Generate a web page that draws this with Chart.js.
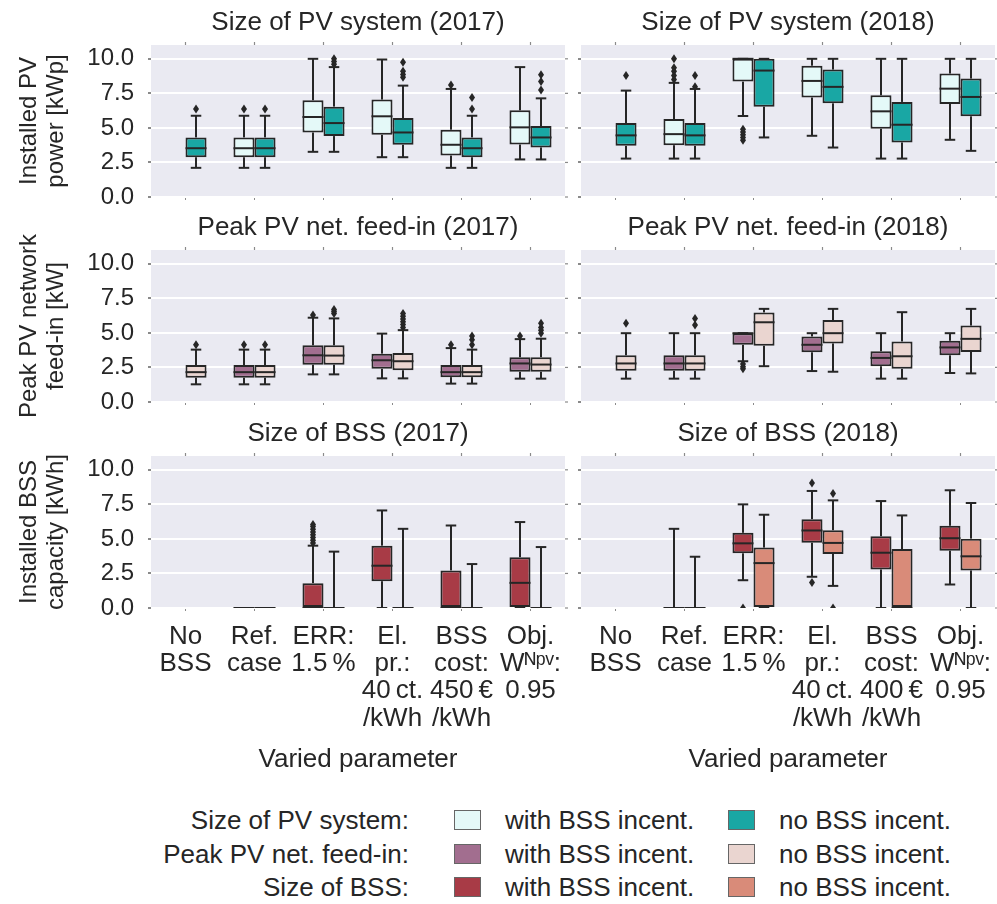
<!DOCTYPE html>
<html><head><meta charset="utf-8">
<script src="https://cdn.jsdelivr.net/npm/chart.js@4.4.1/dist/chart.umd.min.js"></script>
<style>
html,body{margin:0;padding:0;background:#fff;}
body{width:997px;height:904px;position:relative;overflow:hidden;font-family:"Liberation Sans",Arial,sans-serif;color:#262626;}
canvas{position:absolute;}
.lg{position:absolute;font-size:26px;line-height:34px;height:34px;white-space:nowrap;}
.sw{position:absolute;width:27px;height:20px;border:1px solid #666;box-sizing:border-box;}
</style></head><body>
<canvas id="c0"></canvas><canvas id="c1"></canvas>
<canvas id="c2"></canvas><canvas id="c3"></canvas>
<canvas id="c4"></canvas><canvas id="c5"></canvas>
<div id="legend"></div>
<script>
// ---------- data ----------
const yTicks = [0, 2.5, 5, 7.5, 10];
const yMax = 11;
const cats2017 = [["No","BSS"],["Ref.","case"],["ERR:","1.5\u2009%"],["El.","pr.:","40\u2009ct.","/kWh"],["BSS","cost:","450\u2009€","/kWh"],["Obj.","Wᴺᵖᵛ:","0.95"]];
const cats2018 = [["No","BSS"],["Ref.","case"],["ERR:","1.5\u2009%"],["El.","pr.:","40\u2009ct.","/kWh"],["BSS","cost:","400\u2009€","/kWh"],["Obj.","Wᴺᵖᵛ:","0.95"]];
const seriesNames = ["with BSS incent.", "no BSS incent."];

// box stats: [lower whisker, q1, median, q3, upper whisker]
const pv2017With = [null,[2.11,2.88,3.53,4.31,5.88],[3.27,4.67,5.79,7.0,10.0],[2.88,4.5,5.84,7.05,9.95],[2.11,3.0,3.78,4.87,7.82],[2.72,3.8,5.04,6.27,9.4]];
const pv2017WithOut = [[],[6.37],[],[],[8.1],[]];
const pv2017No = [[2.11,2.88,3.53,4.31,5.88],[2.11,2.88,3.53,4.31,5.88],[3.27,4.41,5.35,6.54,9.4],[2.88,3.78,4.67,5.71,8.06],[2.11,2.88,3.53,4.31,5.88],[2.72,3.59,4.31,5.13,7.14]];
const pv2017NoOut = [[6.37],[6.37],[9.6,9.8,10.0],[8.67,8.86,9.1,9.76],[6.37,7.2],[7.75,8.35,8.84]];

const pv2018With = [null,[2.78,3.75,4.55,5.64,8.26],[5.86,8.35,10.0,10.0,10.0],[4.43,7.2,8.4,9.5,10.0],[2.78,4.94,6.2,7.36,10.0],[4.14,6.73,7.84,8.93,10.0]];
const pv2018WithOut = [[],[8.5,8.79,9.1,9.35,10.0],[4.1,4.3,4.5,4.7,4.9],[],[],[]];
const pv2018No = [[2.78,3.7,4.46,5.35,7.7],[2.78,3.7,4.46,5.35,7.82],[4.31,6.54,9.15,10.0,10.0],[3.58,6.78,7.97,9.22,10.0],[2.78,3.95,5.23,6.88,10.0],[3.34,5.84,7.24,8.57,10.0]];
const pv2018NoOut = [[8.79],[7.97,8.79],[],[],[],[]];

const fi2017With = [null,[1.28,1.76,2.16,2.67,3.79],[2.0,2.7,3.38,4.1,6.1],[1.71,2.4,3.02,3.5,4.95],[1.33,1.8,2.16,2.67,3.9],[1.69,2.19,2.79,3.24,4.55]];
const fi2017WithOut = [[],[4.14],[6.29],[],[4.15],[4.78]];
const fi2017No = [[1.28,1.76,2.16,2.67,3.79],[1.28,1.76,2.16,2.67,3.79],[2.0,2.7,3.36,4.1,6.05],[1.71,2.3,2.95,3.55,5.2],[1.33,1.8,2.16,2.67,3.79],[1.69,2.19,2.71,3.24,4.58]];
const fi2017NoOut = [[4.14],[4.14],[6.4,6.55,6.7],[5.4,5.6,5.8,6.0,6.2,6.4],[4.14,4.5,4.78],[4.98,5.2,5.4,5.69]];

const fi2018With = [null,[1.69,2.26,2.79,3.38,4.98],[2.95,4.14,4.98,4.98,4.98],[2.24,3.6,4.14,4.74,4.98],[1.69,2.59,3.19,3.67,4.98],[2.1,3.38,3.95,4.43,4.98]];
const fi2018WithOut = [[],[],[2.75,2.55,2.4],[],[],[]];
const fi2018No = [[1.69,2.26,2.79,3.38,4.98],[1.69,2.26,2.79,3.38,4.98],[2.59,4.07,5.77,6.48,6.74],[2.19,4.24,4.98,5.93,6.74],[1.69,2.4,3.31,4.38,6.5],[2.07,3.62,4.57,5.53,6.74]];
const fi2018NoOut = [[5.69],[5.57,6.05],[],[],[],[]];

const bss2017With = [null,[0,0,0,0,0],[0,0,0,1.8,4.51],[0,1.94,3.06,4.51,7.06],[0,0,0,2.72,5.97],[0,0,1.82,3.68,6.22]];
const bss2017WithOut = [[],[],[4.7,4.9,5.1,5.3,5.5,5.7,5.9,6.05],[],[],[]];
const bss2017No = [null,[0,0,0,0,0],[0,0,0,0,4.08],[0,0,0,0,5.73],[0,0,0,0,3.18],[0,0,0,0,4.41]];
const bss2017NoOut = [[],[],[],[],[],[]];

const bss2018With = [null,[0,0,0,0,5.73],[2.01,3.96,4.68,5.44,7.5],[2.26,4.73,5.61,6.43,8.47],[0,2.79,4.0,5.19,7.74],[1.7,4.15,5.05,5.95,8.52]];
const bss2018WithOut = [[],[],[0],[9.05,1.85],[],[]];
const bss2018No = [null,[0,0,0,0,3.71],[0,0,3.25,4.37,6.75],[1.6,3.91,4.71,5.63,7.79],[0,0,0,4.27,6.7],[0,2.72,3.74,5.02,7.6]];
const bss2018NoOut = [[],[],[],[8.28,0],[],[]];

// ---------- styles ----------
const FONT = "'Liberation Sans', Arial, sans-serif";
const TEXT = '#262626';
const EDGE = '#262626';
const BG = '#eaeaf2';
const colPV = ['#e4f9f8', '#19a7a4'];
const colFI = ['#a26e8f', '#ead5d0'];
const colBSS = ['#a83b46', '#d98b79'];

const panels = [
  {id:'c0', col:0, row:0, title:'Size of PV system (2017)', cats:cats2017, s:[pv2017With,pv2017No], o:[pv2017WithOut,pv2017NoOut], colors:colPV, yTitle:['Installed PV','power [kWp]']},
  {id:'c1', col:1, row:0, title:'Size of PV system (2018)', cats:cats2018, s:[pv2018With,pv2018No], o:[pv2018WithOut,pv2018NoOut], colors:colPV},
  {id:'c2', col:0, row:1, title:'Peak PV net. feed-in (2017)', cats:cats2017, s:[fi2017With,fi2017No], o:[fi2017WithOut,fi2017NoOut], colors:colFI, yTitle:['Peak PV network','feed-in [kW]']},
  {id:'c3', col:1, row:1, title:'Peak PV net. feed-in (2018)', cats:cats2018, s:[fi2018With,fi2018No], o:[fi2018WithOut,fi2018NoOut], colors:colFI},
  {id:'c4', col:0, row:2, title:'Size of BSS (2017)', cats:cats2017, s:[bss2017With,bss2017No], o:[bss2017WithOut,bss2017NoOut], colors:colBSS, yTitle:['Installed BSS','capacity [kWh]']},
  {id:'c5', col:1, row:2, title:'Size of BSS (2018)', cats:cats2018, s:[bss2018With,bss2018No], o:[bss2018WithOut,bss2018NoOut], colors:colBSS}
];

const bgPlugin = {
  id:'bg',
  beforeDraw(chart){
    const {ctx, chartArea:a} = chart;
    ctx.save(); ctx.fillStyle = BG; ctx.fillRect(a.left, a.top, a.right-a.left, a.bottom-a.top); ctx.restore();
  },
  afterDraw(chart){
    const {ctx, chartArea:a, scales:{x,y}} = chart;
    ctx.save(); ctx.strokeStyle = '#8a8a8a'; ctx.lineWidth = 1.2;
    x.ticks.forEach((t,i)=>{ const px = x.getPixelForTick(i); ctx.beginPath(); ctx.moveTo(px, a.top-3); ctx.lineTo(px, a.top); ctx.stroke(); });
    y.ticks.forEach(t=>{ const py = y.getPixelForValue(t.value); ctx.beginPath(); ctx.moveTo(a.right, py); ctx.lineTo(a.right+3, py); ctx.stroke(); });
    ctx.restore();
  }
};

const boxPlugin = {
  id:'boxes',
  afterDatasetsDraw(chart){
    const {ctx, chartArea:a, scales:{y}} = chart;
    ctx.save();
    ctx.beginPath(); ctx.rect(a.left, a.top, a.right-a.left, a.bottom-a.top); ctx.clip();
    ctx.strokeStyle = EDGE; ctx.fillStyle = EDGE; ctx.lineWidth = 2;
    chart.data.datasets.forEach((ds, di) => {
      const meta = chart.getDatasetMeta(di);
      ds.stats.forEach((s, i) => {
        if (!s) return;
        const {x: cx, width: w} = meta.data[i].getProps(['x','width'], true);
        const [lo, q1, med, q3, hi] = s;
        const line = (x1,y1,x2,y2)=>{ ctx.beginPath(); ctx.moveTo(x1,y1); ctx.lineTo(x2,y2); ctx.stroke(); };
        const yq1 = y.getPixelForValue(q1), yq3 = y.getPixelForValue(q3);
        const ylo = y.getPixelForValue(lo), yhi = y.getPixelForValue(hi);
        line(cx, yq3, cx, yhi); line(cx-w/4, yhi, cx+w/4, yhi);
        line(cx, yq1, cx, ylo); line(cx-w/4, ylo, cx+w/4, ylo);
        const ym = y.getPixelForValue(med);
        line(cx-w/2, ym, cx+w/2, ym);
        (ds.fliers[i] || []).forEach(v => {
          const py = y.getPixelForValue(v);
          ctx.beginPath(); ctx.moveTo(cx, py-4.5); ctx.lineTo(cx+3, py); ctx.lineTo(cx, py+4.5); ctx.lineTo(cx-3, py); ctx.closePath(); ctx.fill();
        });
      });
    });
    ctx.restore();
  }
};

function makeChart(p){
  const cv = document.getElementById(p.id);
  const left = p.col === 0 ? 0 : 575;
  const width = p.col === 0 ? 572 : 422;
  const top = [0, 205, 411][p.row];
  const xH = [8, 38, 170][p.row];
  const height = 45 + 152 + xH;
  cv.width = width; cv.height = height;
  cv.style.left = left + 'px'; cv.style.top = top + 'px';
  const boxData = st => st.map(v => v ? [v[1], v[3]] : null);
  new Chart(cv, {
    type:'bar',
    data:{
      labels:p.cats,
      datasets:[0,1].map(k => ({
        label: seriesNames[k], data: boxData(p.s[k]), stats: p.s[k], fliers: p.o[k],
        backgroundColor: p.colors[k], borderColor: EDGE, borderWidth: 2, borderSkipped: false
      }))
    },
    options:{
      responsive:false, animation:false, devicePixelRatio:1,
      layout:{padding:{left:0, right: p.col === 0 ? 7 : 2, top:0, bottom:0}},
      plugins:{
        legend:{display:false}, tooltip:{enabled:false},
        title:{display:true, text:p.title, fullSize:false, color:TEXT,
               font:{family:FONT, size:26, weight:'normal', lineHeight:1.2}, padding:{top:7, bottom:6.8}}
      },
      datasets:{bar:{categoryPercentage:0.61, barPercentage:1}},
      scales:{
        x:{
          type:'category', offset:true,
          grid:{display:true, drawOnChartArea:false, drawTicks:true, tickLength:3, tickColor:'#8a8a8a', offset:false},
          border:{display:false},
          ticks:{display: p.row === 2, color:TEXT, font:{family:FONT, size:26, lineHeight:1.05}, padding:12, maxRotation:0, minRotation:0, autoSkip:false},
          title:{display: p.row === 2, text:'Varied parameter', color:TEXT, font:{family:FONT, size:26, lineHeight:1.2}, padding:{top:4, bottom:3}},
          afterFit: s => { s.height = xH; s.paddingLeft = 0; s.paddingRight = 0; }
        },
        y:{
          min:0, max:yMax,
          afterBuildTicks: s => { s.ticks = yTicks.map(v => ({value:v})); },
          grid:{color:'#ffffff', lineWidth:2, tickColor:'#8a8a8a', tickLength:3, drawTicks:true},
          border:{display:false},
          ticks:{display: p.col === 0, color:TEXT, font:{family:FONT, size:24}, padding:14, callback: v => Number(v).toFixed(1)},
          title:{display: p.col === 0, text: p.yTitle || '', color:TEXT, font:{family:FONT, size:24, lineHeight:1.12}, padding:{top:16, bottom:0}},
          afterFit: s => { s.width = p.col === 0 ? 151 : 6; s.paddingTop = 0; s.paddingBottom = 0; }
        }
      }
    },
    plugins:[bgPlugin, boxPlugin]
  });
}
panels.forEach(makeChart);

// ---------- legend ----------
const legendRows = [
  {label:'Size of PV system:', colors:colPV},
  {label:'Peak PV net. feed-in:', colors:colFI},
  {label:'Size of BSS:', colors:colBSS}
];
const lg = document.getElementById('legend');
legendRows.forEach((r, i) => {
  const cy = 820 + i * 33.5;
  const lab = document.createElement('div'); lab.className = 'lg'; lab.textContent = r.label;
  lab.style.right = (997 - 409) + 'px'; lab.style.top = (cy - 17) + 'px'; lg.appendChild(lab);
  [0,1].forEach(k => {
    const sw = document.createElement('div'); sw.className = 'sw'; sw.style.background = r.colors[k];
    sw.style.left = (k === 0 ? 454 : 728) + 'px'; sw.style.top = (cy - 10) + 'px'; lg.appendChild(sw);
    const t = document.createElement('div'); t.className = 'lg'; t.textContent = seriesNames[k];
    t.style.left = (k === 0 ? 505 : 779) + 'px'; t.style.top = (cy - 17) + 'px'; lg.appendChild(t);
  });
});
</script>
</body></html>
